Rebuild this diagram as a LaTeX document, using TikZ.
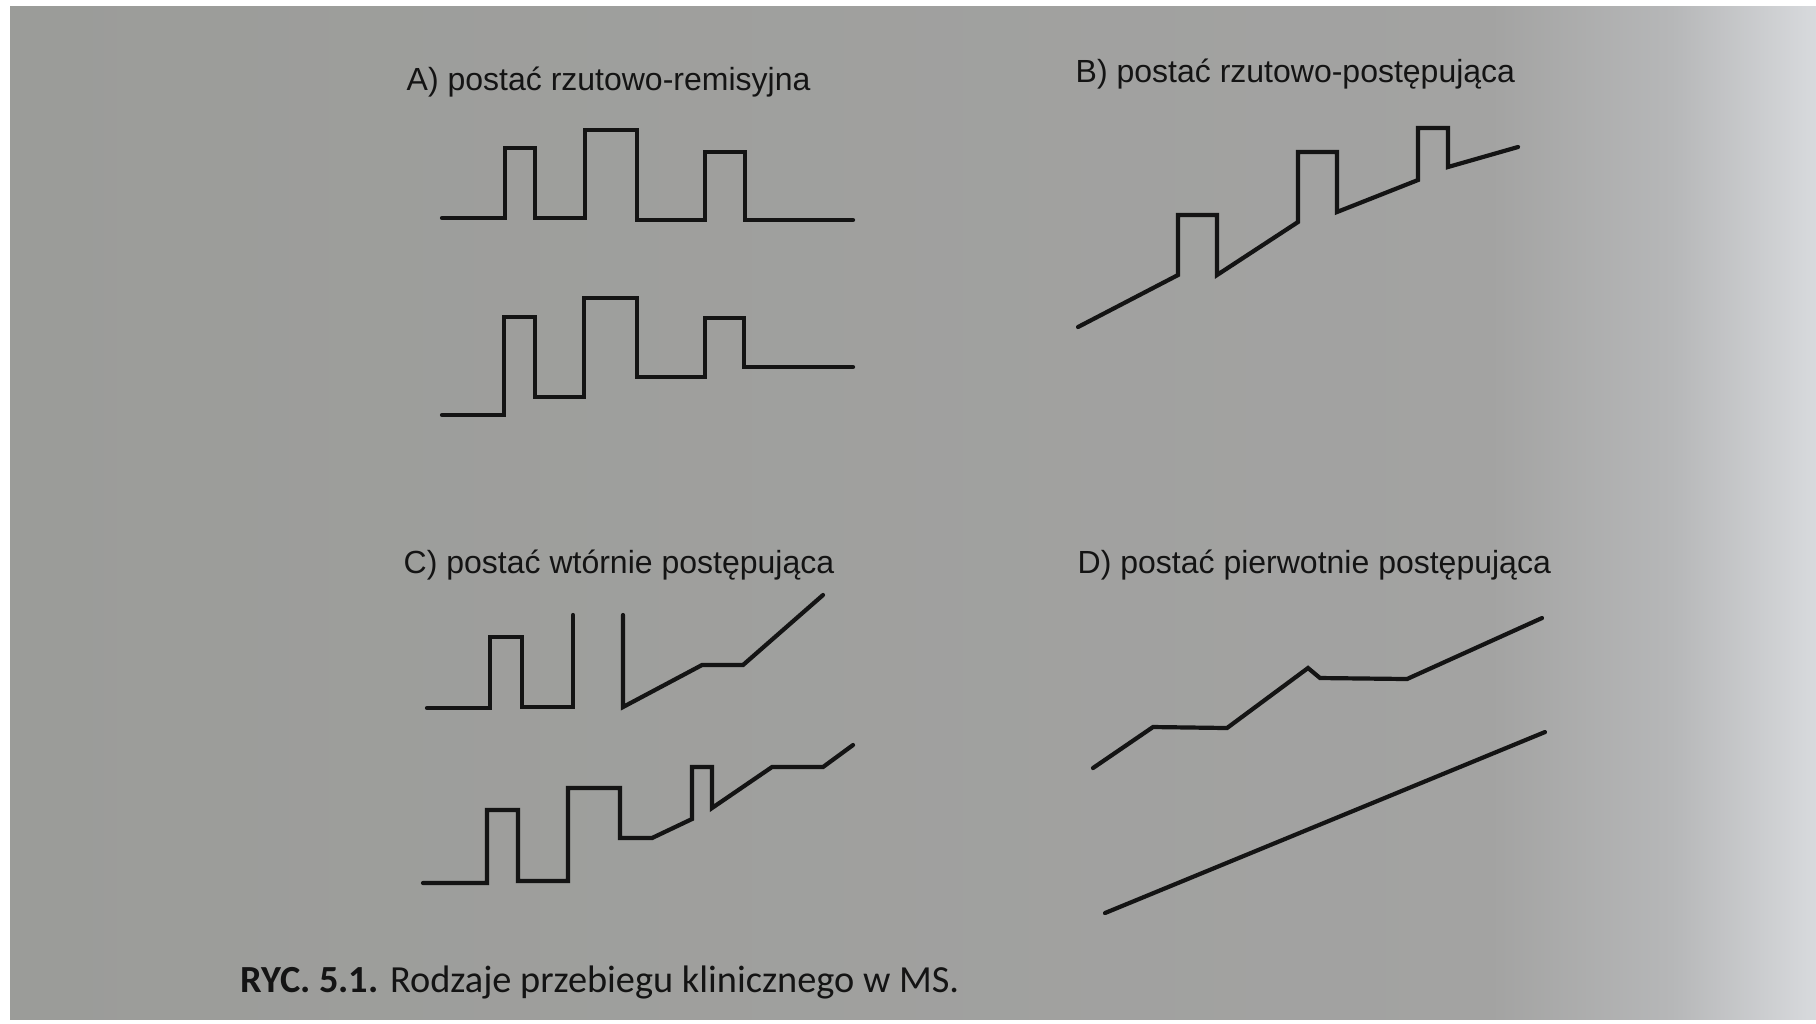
\documentclass[tikz,border=0pt]{standalone}
\usepackage{fontspec}
\setmainfont{Liberation Sans}
\newfontfamily\capfont{Carlito}
\definecolor{ink}{RGB}{20,20,20}
\definecolor{pA}{RGB}{155,156,153}
\definecolor{pB}{RGB}{163,163,162}
\definecolor{pC}{RGB}{182,183,184}
\definecolor{pD}{RGB}{216,218,221}
\pgfdeclarehorizontalshading{paper}{100bp}{color(0bp)=(pA); color(25bp)=(pA); color(66bp)=(pB); color(71bp)=(pC); color(75bp)=(pD); color(100bp)=(pD)}
\tikzset{
  curve/.style={draw=ink, line width=0.042cm, line join=miter, line cap=round},
  lbl/.style={anchor=base west, inner sep=0pt, text=ink, font=\fontsize{9.1}{11}\selectfont},
  captext/.style={anchor=base west, inner sep=0pt, text=ink, font=\capfont\fontsize{10.9}{13}\selectfont}
}
\begin{document}
\begin{tikzpicture}[x=0.01cm, y=-0.01cm]
\useasboundingbox (0,0) rectangle (1816,1023);
\fill[white] (0,0) rectangle (1816,1023);
\shade[shading=paper] (10,6) rectangle (1816,1019);

% labels
\node[lbl] (la) at (406,90) {A) postać rzutowo-remisyjna};
\node[lbl] (lb) at (1075,82) {B) postać rzutowo-postępująca};
\node[lbl] (lc) at (403,573) {C) postać wtórnie postępująca};
\node[lbl] (ld) at (1077,573) {D) postać pierwotnie postępująca};
\node[captext] (caption) at (240,992) {\textbf{RYC. 5.1.} Rodzaje przebiegu klinicznego w MS.};

% A top
\draw[curve] (442,218) -- (505,218) -- (505,148) -- (535,148) -- (535,218)
  -- (585,218) -- (585,130) -- (637,130) -- (637,220) -- (705,220)
  -- (705,152) -- (745,152) -- (745,220) -- (853,220);
% A bottom
\draw[curve] (442,415) -- (504,415) -- (504,317) -- (535,317) -- (535,397)
  -- (584,397) -- (584,298) -- (637,298) -- (637,377) -- (705,377)
  -- (705,318) -- (744,318) -- (744,367) -- (853,367);

% B
\draw[curve] (1078,327) -- (1178,275) -- (1178,215) -- (1217,215) -- (1217,275)
  -- (1298,222) -- (1298,152) -- (1337,152) -- (1337,212)
  -- (1418,180) -- (1418,128) -- (1448,128) -- (1448,167) -- (1518,147);

% C top
\draw[curve] (427,708) -- (490,708) -- (490,637) -- (522,637) -- (522,707)
  -- (573,707) -- (573,615);
\draw[curve] (623,615) -- (623,707) -- (702,665) -- (743,665) -- (823,595);
% C bottom
\draw[curve] (423,883) -- (487,883) -- (487,810) -- (518,810) -- (518,881)
  -- (568,881) -- (568,788) -- (620,788) -- (620,838) -- (652,838)
  -- (692,819) -- (692,767) -- (712,767) -- (712,808) -- (772,767)
  -- (823,767) -- (853,745);

% D
\draw[curve] (1093,768) -- (1153,727) -- (1227,728) -- (1308,668) -- (1320,678)
  -- (1407,679) -- (1542,618);
\draw[curve] (1105,913) -- (1545,732);
\end{tikzpicture}
\end{document}
